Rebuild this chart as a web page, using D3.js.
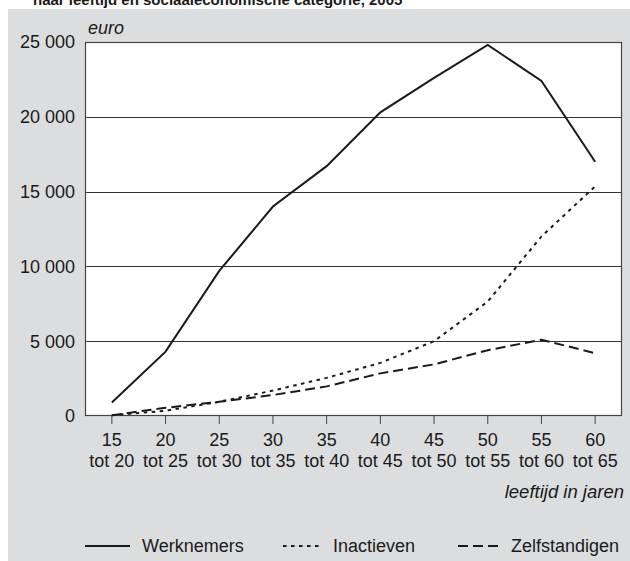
<!DOCTYPE html>
<html>
<head>
<meta charset="utf-8">
<script src="https://cdn.jsdelivr.net/npm/d3@7"></script>
<style>
  body { margin: 0; background: #fff; }
  text { font-family: "Liberation Sans", Arial, sans-serif; fill: #1a1a1a; }
</style>
</head>
<body>
<div id="chart"></div>
<script>
// Data
var ageFrom = ["15", "20", "25", "30", "35", "40", "45", "50", "55", "60"];
var ageTo = ["tot 20", "tot 25", "tot 30", "tot 35", "tot 40", "tot 45", "tot 50", "tot 55", "tot 60", "tot 65"];
var werknemers = [900, 4300, 9700, 14000, 16700, 20300, 22600, 24800, 22400, 17000];
var inactieven = [50, 350, 950, 1700, 2550, 3550, 5000, 7650, 12000, 15350];
var zelfstandigen = [50, 550, 950, 1400, 1980, 2850, 3450, 4400, 5100, 4200];
var yTicks = [0, 5000, 10000, 15000, 20000, 25000];

var svgWidth = 630;
var svgHeight = 561;
var margin = { top: 42, right: 8, bottom: 145, left: 85 };
var width = svgWidth - margin.left - margin.right;
var height = svgHeight - margin.top - margin.bottom;

var svg = d3.select("#chart").append("svg")
    .attr("width", svgWidth)
    .attr("height", svgHeight);

// grey panel
svg.append("rect")
    .attr("x", 8).attr("y", 9)
    .attr("width", svgWidth - 8).attr("height", svgHeight - 9)
    .attr("fill", "#dcdddf");

// title, clipped at the top edge as in the source
svg.append("text")
    .attr("x", 33).attr("y", 5)
    .attr("font-size", 15)
    .attr("font-weight", "bold")
    .text("naar leeftijd en sociaaleconomische categorie, 2005");

var chartGroup = svg.append("g")
    .attr("transform", `translate(${margin.left}, ${margin.top})`);

var xScale = d3.scaleBand().domain(ageFrom).range([0, width]);
var yScale = d3.scaleLinear().domain([0, 25000]).range([height, 0]);

// plot area
chartGroup.append("rect")
    .attr("width", width).attr("height", height)
    .attr("fill", "#fff");

// gridlines
chartGroup.selectAll(".grid")
    .data(yTicks.slice(1, -1))
    .enter().append("line")
    .attr("x1", 0).attr("x2", width)
    .attr("y1", d => Math.round(yScale(d)) + 0.5)
    .attr("y2", d => Math.round(yScale(d)) + 0.5)
    .attr("stroke", "#333")
    .attr("stroke-width", 1);

chartGroup.append("rect")
    .attr("x", 0.5).attr("y", 0.5)
    .attr("width", width - 1).attr("height", height - 1)
    .attr("fill", "none")
    .attr("stroke", "#444")
    .attr("stroke-width", 1.2);

// y axis labels
var fmt = d => d === 0 ? "0" : d3.format(",")(d).replace(",", " ");
chartGroup.selectAll(".ylab")
    .data(yTicks)
    .enter().append("text")
    .attr("x", -10)
    .attr("y", d => yScale(d))
    .attr("dy", "0.35em")
    .attr("text-anchor", "end")
    .attr("font-size", 18)
    .text(fmt);

chartGroup.append("text")
    .attr("x", 3).attr("y", -8)
    .attr("font-size", 18)
    .attr("font-style", "italic")
    .text("euro");

// x axis ticks and labels
var xCenter = d => xScale(d) + xScale.bandwidth() / 2;
chartGroup.selectAll(".xtick")
    .data(ageFrom)
    .enter().append("line")
    .attr("x1", xCenter).attr("x2", xCenter)
    .attr("y1", height).attr("y2", height + 8)
    .attr("stroke", "#444");

chartGroup.selectAll(".xlab1")
    .data(ageFrom)
    .enter().append("text")
    .attr("x", xCenter)
    .attr("y", height + 30)
    .attr("text-anchor", "middle")
    .attr("font-size", 18)
    .text(d => d);

chartGroup.selectAll(".xlab2")
    .data(ageTo)
    .enter().append("text")
    .attr("x", (d, i) => xCenter(ageFrom[i]))
    .attr("y", height + 51)
    .attr("text-anchor", "middle")
    .attr("font-size", 18)
    .text(d => d);

chartGroup.append("text")
    .attr("x", width + 2)
    .attr("y", height + 82)
    .attr("text-anchor", "end")
    .attr("font-size", 18.5)
    .attr("font-style", "italic")
    .text("leeftijd in jaren");

// lines
var series = [
    { name: "Werknemers", values: werknemers, dash: null },
    { name: "Inactieven", values: inactieven, dash: "3.5,4.5" },
    { name: "Zelfstandigen", values: zelfstandigen, dash: "10,5" }
];

var line = d3.line()
    .x((d, i) => xCenter(ageFrom[i]))
    .y(d => yScale(d));

chartGroup.selectAll(".series")
    .data(series)
    .enter().append("path")
    .attr("d", d => line(d.values))
    .attr("fill", "none")
    .attr("stroke", "#1a1a1a")
    .attr("stroke-width", 2)
    .attr("stroke-dasharray", d => d.dash);

// legend
var legendPos = [
    { x1: 85, x2: 130, tx: 142 },
    { x1: 283, x2: 320, tx: 333 },
    { x1: 458, x2: 498, tx: 511 }
];
var legend = svg.append("g");
series.forEach(function(s, i) {
    var p = legendPos[i];
    legend.append("line")
        .attr("x1", p.x1).attr("x2", p.x2)
        .attr("y1", 546).attr("y2", 546)
        .attr("stroke", "#1a1a1a")
        .attr("stroke-width", 2)
        .attr("stroke-dasharray", s.dash);
    legend.append("text")
        .attr("x", p.tx).attr("y", 552)
        .attr("font-size", 18)
        .text(s.name);
});
</script>
</body>
</html>
